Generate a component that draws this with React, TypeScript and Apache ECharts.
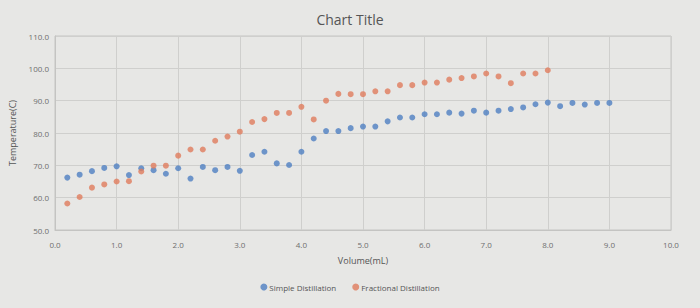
import React, { useEffect, useRef } from "react";
import * as echarts from "echarts";

const simpleX = [0.2,0.4,0.6,0.8,1.0,1.2,1.4,1.6,1.8,2.0,2.2,2.4,2.6,2.8,3.0,3.2,3.4,3.6,3.8,4.0,4.2,4.4,4.6,4.8,5.0,5.2,5.4,5.6,5.8,6.0,6.2,6.4,6.6,6.8,7.0,7.2,7.4,7.6,7.8,8.0,8.2,8.4,8.6,8.8,9.0];
const simpleY = [66.2,67.1,68.2,69.2,69.7,67.0,69.1,68.5,67.4,69.1,65.9,69.5,68.5,69.5,68.3,73.2,74.2,70.6,70.1,74.2,78.3,80.6,80.6,81.5,82.0,82.0,83.6,84.8,84.8,85.8,85.8,86.3,86.0,86.9,86.3,86.9,87.4,87.9,88.9,89.4,88.3,89.3,88.8,89.3,89.3];
const fracX = [0.2,0.4,0.6,0.8,1.0,1.2,1.4,1.6,1.8,2.0,2.2,2.4,2.6,2.8,3.0,3.2,3.4,3.6,3.8,4.0,4.2,4.4,4.6,4.8,5.0,5.2,5.4,5.6,5.8,6.0,6.2,6.4,6.6,6.8,7.0,7.2,7.4,7.6,7.8,8.0];
const fracY = [58.2,60.2,63.1,64.1,65.0,65.1,68.1,69.9,69.9,73.0,74.9,74.9,77.6,78.9,80.4,83.4,84.3,86.2,86.2,88.1,84.2,90.0,92.1,92.0,92.0,92.9,92.9,94.8,94.8,95.6,95.6,96.5,97.0,97.5,98.4,97.5,95.4,98.4,98.4,99.4];

const title = "Chart Title";
const xName = "Volume(mL)";
const yName = "Temperature(C)";
const seriesNames = ["Simple Distillation", "Fractional Distillation"];

export default function App() {
  const ref = useRef<HTMLDivElement>(null);
  useEffect(() => {
    const chart = echarts.init(ref.current!, null, { renderer: "svg" });
    const labelColor = "#6e6e6e";
    chart.setOption({
      animation: false,
      backgroundColor: "#e7e7e5",
      title: {
        text: title,
        left: "center",
        top: 7,
        textStyle: { fontFamily: "Open Sans", fontSize: 14, fontWeight: "normal", color: "#555" },
      },
      legend: {
        bottom: 12,
        left: "center",
        itemWidth: 7,
        itemHeight: 7,
        itemGap: 16,
        icon: "circle",
        textStyle: { fontFamily: "Open Sans", fontSize: 8, color: "#555", padding: [0, 0, 0, -3] },
        data: seriesNames,
      },
      grid: { left: 52, right: 29, top: 36, bottom: 78, show: true, borderColor: "#c4c4c2", borderWidth: 1 },
      xAxis: {
        type: "value",
        min: 0,
        max: 10,
        interval: 1,
        name: xName,
        nameLocation: "middle",
        nameGap: 26,
        nameTextStyle: { fontFamily: "Open Sans", fontSize: 9, color: "#555" },
        axisLine: { show: true, lineStyle: { color: "#c4c4c2" } },
        axisTick: { show: false },
        axisLabel: { formatter: (v: number) => v.toFixed(1), fontFamily: "Open Sans", fontSize: 8, color: labelColor, margin: 10 },
        splitLine: { lineStyle: { color: "#cfcfcd" } },
      },
      yAxis: {
        type: "value",
        min: 50,
        max: 110,
        interval: 10,
        name: yName,
        nameLocation: "middle",
        nameGap: 38,
        nameTextStyle: { fontFamily: "Open Sans", fontSize: 9, color: "#555" },
        axisLine: { show: true, lineStyle: { color: "#c4c4c2" } },
        axisTick: { show: false },
        axisLabel: { formatter: (v: number) => v.toFixed(1), fontFamily: "Open Sans", fontSize: 8, color: labelColor, margin: 6 },
        splitLine: { lineStyle: { color: "#cfcfcd" } },
      },
      series: [
        {
          name: seriesNames[0],
          type: "scatter",
          symbolSize: 6,
          itemStyle: { color: "#4f7fc2" },
          data: simpleX.map((x, i) => [x, simpleY[i]]),
        },
        {
          name: seriesNames[1],
          type: "scatter",
          symbolSize: 6,
          itemStyle: { color: "#e07c5c" },
          data: fracX.map((x, i) => [x, fracY[i]]),
        },
      ],
    });
    return () => chart.dispose();
  }, []);
  return <div ref={ref} style={{ width: 700, height: 308, position: "absolute", left: 0, top: 0 }} />;
}
